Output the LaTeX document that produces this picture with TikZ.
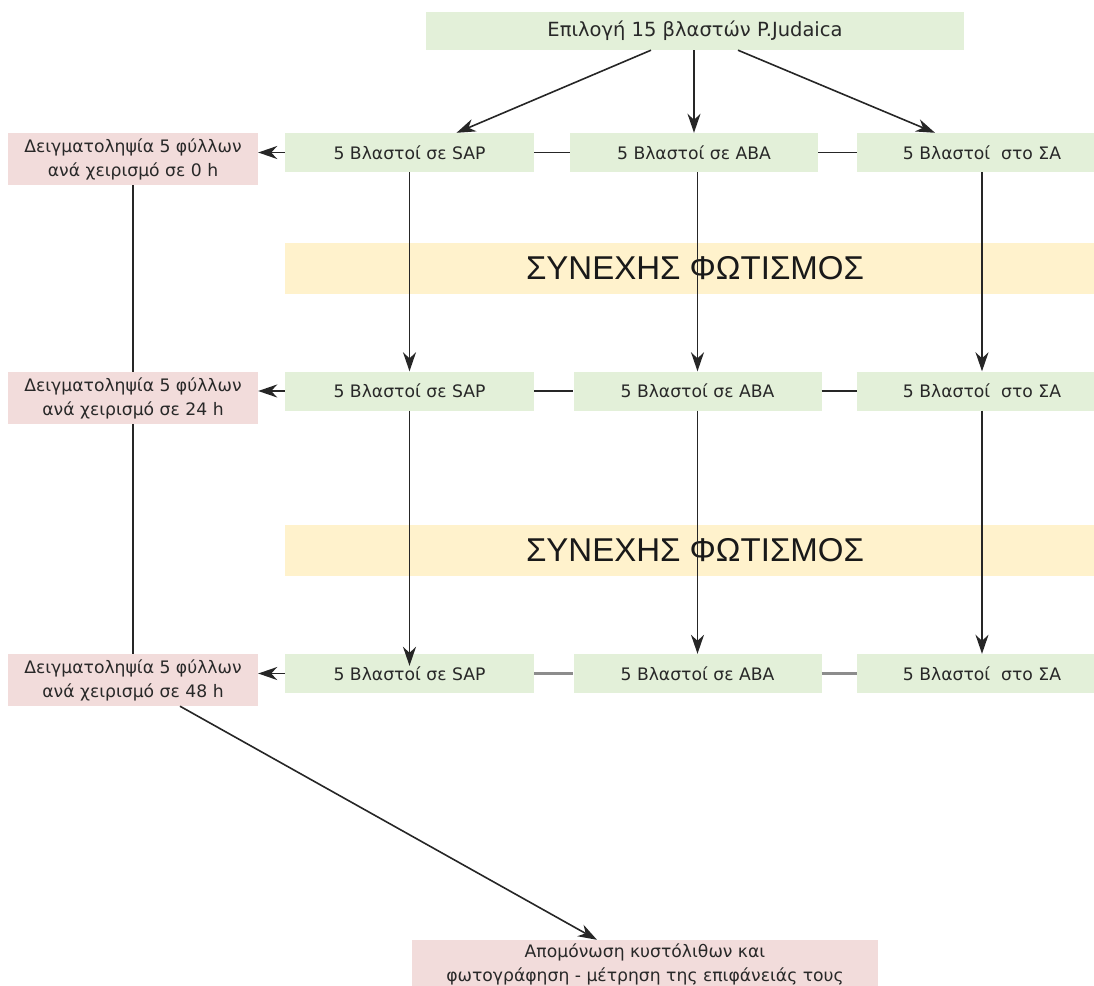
\documentclass[tikz,border=0pt]{standalone}
\usepackage{fontspec}
\setmainfont{DejaVu Sans}
\newfontfamily\bandfont{Liberation Sans}
\usetikzlibrary{arrows.meta}
\definecolor{gfill}{RGB}{227,240,217}
\definecolor{pfill}{RGB}{242,220,219}
\definecolor{yfill}{RGB}{255,242,204}
\definecolor{txt}{RGB}{40,40,40}
\begin{document}
\begin{tikzpicture}[x=1pt,y=-1pt,
 box/.style={inner sep=0pt, text=txt, font=\fontsize{17.2}{24}\selectfont, align=center},
 gbox/.style={box, fill=gfill, minimum height=39pt},
 pbox/.style={box, fill=pfill, minimum width=250pt, minimum height=52pt},
 band/.style={fill=yfill, inner sep=0pt, minimum width=820pt, minimum height=51pt, font=\bandfont\fontsize{33}{36}\selectfont, text=black!90},
 conn/.style={draw=black!85, line width=1.6pt},
 conng/.style={draw=black!45, line width=3pt},
 arr/.style={conn, -{Stealth[length=19pt,width=13pt,inset=6pt]}},
]
\useasboundingbox (0,0) rectangle (1094,985);

% bands
\node[band] (band1) at (695,268) {ΣΥΝΕΧΗΣ ΦΩΤΙΣΜΟΣ};
\node[band] (band2) at (695,550) {ΣΥΝΕΧΗΣ ΦΩΤΙΣΜΟΣ};

% top
\node[gbox, minimum width=538pt, minimum height=38pt, font=\fontsize{19.5}{24}\selectfont] (top) at (695,31) {Επιλογή 15 βλαστών P.Judaica};

% row 1
\node[gbox, minimum width=249pt] (sap1) at (409.5,152.5) {5 Βλαστοί σε SAP};
\node[gbox, minimum width=248pt] (aba1) at (694,152.5) {5 Βλαστοί σε ABA};
\node[gbox, minimum width=250pt] (sa1) at (982,152.5) {5 Βλαστοί~ στο ΣΑ};
\node[pbox] (pk1) at (133,159) {Δειγματοληψία 5 φύλλων\\ανά χειρισμό σε 0 h};

% row 2
\node[gbox, minimum width=249pt] (sap2) at (409.5,391) {5 Βλαστοί σε SAP};
\node[gbox, minimum width=248pt] (aba2) at (697.5,391) {5 Βλαστοί σε ABA};
\node[gbox, minimum width=250pt] (sa2) at (982,391) {5 Βλαστοί~ στο ΣΑ};
\node[pbox] (pk2) at (133,398) {Δειγματοληψία 5 φύλλων\\ανά χειρισμό σε 24 h};

% row 3
\node[gbox, minimum width=249pt] (sap3) at (409.5,673.5) {5 Βλαστοί σε SAP};
\node[gbox, minimum width=248pt] (aba3) at (697.5,673.5) {5 Βλαστοί σε ABA};
\node[gbox, minimum width=250pt] (sa3) at (982,673.5) {5 Βλαστοί~ στο ΣΑ};
\node[pbox] (pk3) at (133,680) {Δειγματοληψία 5 φύλλων\\ανά χειρισμό σε 48 h};

% bottom
\node[pbox, minimum width=466pt, minimum height=48pt] (bot) at (645,964) {Απομόνωση κυστόλιθων και\\φωτογράφηση - μέτρηση της επιφάνειάς τους};

% top arrows
\draw[arr] ([xshift=-44pt]top.south) -- ([xshift=47pt]sap1.north);
\draw[arr] (top.south -| aba1.north) -- (aba1.north);
\draw[arr] ([xshift=43pt]top.south) -- ([xshift=-47pt]sa1.north);

% horizontal links
\draw[conn] (sap1.east) -- (aba1.west);
\draw[conn] (aba1.east) -- (sa1.west);
\draw[conn] (sap2.east) -- (aba2.west);
\draw[conn] (aba2.east) -- (sa2.west);
\draw[conng] (sap3.east) -- (aba3.west);
\draw[conng] (aba3.east) -- (sa3.west);

% vertical arrows
\draw[arr] (sap1.south) -- (sap2.north);
\draw[arr] (aba1.south -| aba2.north) -- (aba2.north);
\draw[arr] (sa1.south) -- (sa2.north);
\draw[arr] (sap2.south) -- ([yshift=-12pt]sap3.north);
\draw[arr] (aba2.south) -- (aba3.north);
\draw[arr] (sa2.south) -- (sa3.north);

% arrows to sampling boxes
\draw[arr] (sap1.west) -- (sap1.west -| pk1.east);
\draw[arr] (sap2.west) -- (sap2.west -| pk2.east);
\draw[arr] (sap3.west) -- (sap3.west -| pk3.east);

% left vertical line
\draw[conn] (pk1.south) -- (pk2.north);
\draw[conn] (pk2.south) -- (pk3.north);

% to bottom
\draw[arr] ([xshift=47pt]pk3.south) -- ([xshift=-48pt]bot.north);
\end{tikzpicture}
\end{document}
